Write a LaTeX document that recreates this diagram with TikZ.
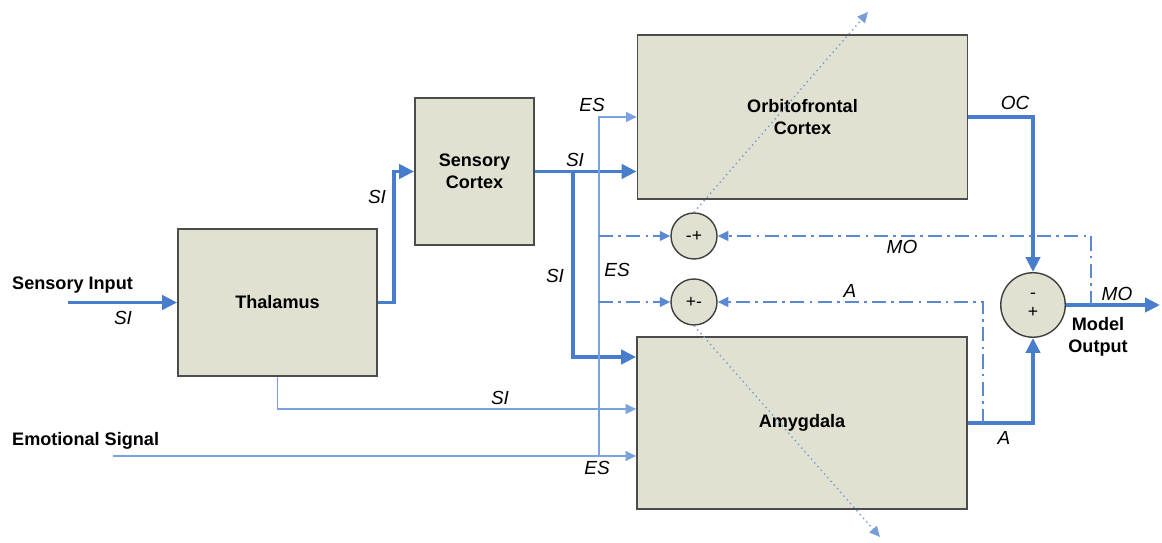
\documentclass[tikz,border=0pt]{standalone}
\usepackage{fontspec}
\setmainfont{Liberation Sans}
\usetikzlibrary{arrows.meta}

\definecolor{linkblue}{RGB}{72,124,204}
\definecolor{thinblue}{RGB}{122,162,222}
\definecolor{boxfill}{RGB}{225,225,210}

\tikzset{
  block/.style={draw=black!70, fill=boxfill, line width=1pt, align=center, inner sep=0pt,
    font=\fontsize{10.3}{12.5}\selectfont\bfseries},
  summer/.style={circle, draw=black!75, fill=boxfill, line width=0.8pt, minimum size=0.92cm,
    inner sep=0pt, font=\fontsize{10}{10}\selectfont},
  bigflow/.style={draw=linkblue, line width=2.2pt, -{Triangle[length=8.5pt,width=8pt]}},
  flow/.style={draw=thinblue, line width=0.9pt, -{Triangle[length=6pt,width=5.6pt]}},
  feedback/.style={draw=linkblue!90, line width=0.8pt, dash pattern=on 8pt off 3pt on 1.5pt off 3pt,
    -{Triangle[length=6pt,width=5.6pt]}},
  dotarrow/.style={draw=linkblue!75, line width=0.8pt, dash pattern=on 0.8pt off 2pt,
    -{Triangle[length=6pt,width=5.6pt]}},
  sig/.style={font=\fontsize{10.8}{12}\selectfont\itshape},
  caption/.style={font=\fontsize{10.3}{12.5}\selectfont\bfseries, align=center}
}

\begin{document}
\begin{tikzpicture}
\useasboundingbox[fill=white] (0,0) rectangle (23.24,10.86);

\node[block, minimum width=3.98cm, minimum height=2.94cm] (thal) at (5.55,4.81) {Thalamus};
\node[block, minimum width=2.38cm, minimum height=2.94cm] (sens) at (9.49,7.43) {Sensory\\Cortex};
\node[block, minimum width=6.6cm, minimum height=3.28cm] (ofc) at (16.05,8.52) {Orbitofrontal\\Cortex};
\node[block, minimum width=6.6cm, minimum height=3.44cm] (amy) at (16.04,2.40) {Amygdala};

\node[summer] (cmo) at (13.88,6.14) {-+};
\node[summer] (ca) at (13.88,4.82) {+-};
\node[summer, minimum size=1.29cm, align=center] (sum) at (20.66,4.76) {-\\[1pt]+};

\coordinate (sin) at (1.36,4.81);
\coordinate (ein) at (2.26,1.74);
\coordinate (split) at (11.46,7.43);
\coordinate (esv) at (11.98,1.74);
\coordinate (mo) at (21.82,4.76);
\coordinate (aout) at (19.66,2.40);
\coordinate (out) at (23.2,4.76);
\coordinate (up) at (17.36,10.62);
\coordinate (down) at (17.6,0.12);

\draw[bigflow] (sin) -- (thal.west);
\draw[bigflow] (thal.east) -- ++(0.32,0) |- (sens.west);
\draw[bigflow] (sens.east) -- (sens.east -| ofc.west);
\draw[bigflow] (split) |- ([yshift=1.32cm]amy.west);
\draw[flow] (thal.south) |- ([yshift=0.28cm]amy.west);
\draw[flow] (ein) -- ([yshift=-0.66cm]amy.west);
\draw[flow] (esv) |- (ofc.west);
\draw[feedback] (esv |- cmo) -- (cmo);
\draw[feedback] (esv |- ca) -- (ca);
\draw[bigflow] (ofc.east) -| (sum.north);
\draw[bigflow] (amy.east) -| (sum.south);
\draw[bigflow] (sum.east) -- (out);
\draw[feedback] (mo) |- (cmo);
\draw[feedback] (aout) |- (ca);
\draw[dotarrow] (cmo.north) -- (up);
\draw[dotarrow] (ca.south) -- (down);

\node[caption, anchor=west] (insens) at (0.12,5.16) {Sensory Input};
\node[caption, anchor=west] (inemo) at (0.12,2.04) {Emotional Signal};
\node[caption] (model) at (21.96,4.12) {Model\\Output};

\node[sig] (si1) at (2.46,4.50) {SI};
\node[sig] (si2) at (7.54,6.92) {SI};
\node[sig] (si3) at (11.50,7.66) {SI};
\node[sig] (si4) at (11.10,5.34) {SI};
\node[sig] (si5) at (10.00,2.90) {SI};
\node[sig] (es1) at (11.84,8.76) {ES};
\node[sig] (es2) at (12.34,5.46) {ES};
\node[sig] (es3) at (11.94,1.50) {ES};
\node[sig] (oc) at (20.30,8.80) {OC};
\node[sig] (mo1) at (18.04,5.92) {MO};
\node[sig] (a1) at (17.00,5.04) {A};
\node[sig] (a2) at (20.08,2.10) {A};
\node[sig] (mo2) at (22.34,4.98) {MO};
\end{tikzpicture}
\end{document}
